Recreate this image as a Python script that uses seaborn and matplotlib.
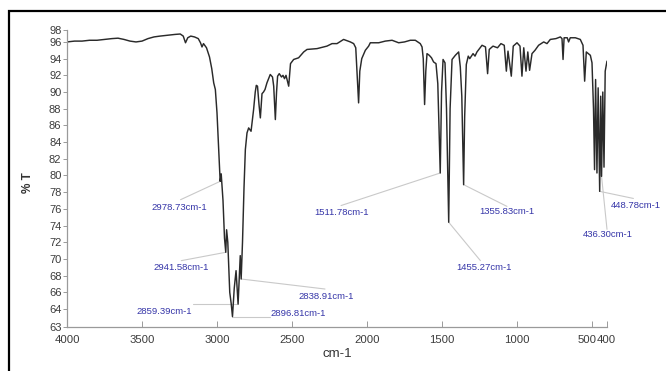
import matplotlib
matplotlib.use("Agg")
import matplotlib.pyplot as plt
import matplotlib.transforms as mtransforms
from matplotlib.patches import Rectangle
import seaborn as sns
import pandas as pd

# FT-IR spectrum: wavenumber (cm-1) and transmittance (%T)
wavenumber = [
    4000, 3950, 3900, 3850, 3800, 3750, 3700, 3660, 3620, 3580, 3540, 3500,
    3460, 3420, 3380, 3330, 3280, 3245, 3225, 3210, 3195, 3175, 3150, 3125,
    3110, 3100, 3090, 3070, 3050, 3035, 3022, 3011, 3000, 2990, 2982, 2978.73,
    2972, 2960, 2950, 2941.58, 2936, 2928, 2915, 2905, 2896.81, 2885, 2873,
    2866, 2859.39, 2852, 2845, 2838.91, 2830, 2820, 2811, 2800, 2789, 2773,
    2765, 2756, 2745, 2738, 2730, 2720, 2711, 2705, 2700, 2690, 2680, 2667,
    2645, 2630, 2622, 2611, 2603, 2596, 2585, 2570, 2560, 2550, 2540, 2533,
    2522, 2510, 2489, 2456, 2422, 2400, 2333, 2267, 2233, 2200, 2156, 2111,
    2089, 2075, 2065, 2056, 2048, 2035, 2011, 1989, 1978, 1922, 1878, 1833,
    1789, 1750, 1711, 1678, 1645, 1633, 1625, 1616, 1608, 1600, 1585, 1570,
    1556, 1540, 1528, 1511.78, 1503, 1493, 1480, 1470, 1455.27, 1446, 1433,
    1411, 1389, 1378, 1368, 1355.83, 1349, 1338, 1325, 1315, 1293, 1280,
    1267, 1250, 1233, 1210, 1196, 1185, 1160, 1130, 1107, 1085, 1071, 1060,
    1038, 1025, 1000, 980, 967, 955, 940, 928, 916, 900, 880, 856, 822, 800,
    778, 740, 711, 700, 693, 686, 665, 656, 645, 611, 578, 560, 549, 538,
    525, 511, 500, 490, 483, 476, 467, 459, 448.78, 442, 436.30, 428, 420,
    412, 400,
]
transmittance = [
    96.0, 96.1, 96.1, 96.2, 96.2, 96.3, 96.4, 96.45, 96.3, 96.1, 96.0, 96.1,
    96.4, 96.6, 96.7, 96.8, 96.9, 96.95, 96.7, 95.9, 96.5, 96.7, 96.6, 96.4,
    95.9, 95.4, 95.8, 95.3, 94.2, 92.8, 91.1, 90.3, 87.5, 83.5, 80.5, 79.3,
    80.2, 77.0, 72.5, 70.8, 73.5, 72.0, 66.0, 64.6, 63.1, 66.5, 68.6,
    66.5, 64.6, 67.5, 70.4, 67.6, 72.0, 78.5, 83.1, 85.1, 85.7, 85.3,
    86.5, 87.9, 90.0, 90.8, 90.7, 88.5, 86.9, 88.5, 89.8, 90.0, 90.3, 91.1,
    92.1, 91.8, 90.7, 86.7, 90.0, 91.9, 92.2, 91.8, 92.0, 91.6, 92.0, 91.5,
    90.7, 93.4, 93.9, 94.1, 94.8, 95.1, 95.2, 95.5, 95.8, 95.8, 96.3, 96.0,
    95.8, 95.3, 91.9, 88.7, 92.5, 94.0, 95.0, 95.5, 95.9, 95.9, 96.1, 96.2,
    95.9, 96.0, 96.2, 96.2, 95.8, 95.4, 94.0, 88.5, 92.5, 94.6, 94.4, 94.1,
    93.6, 93.4, 91.0, 80.3, 90.0, 93.9, 93.5, 88.0, 74.4, 88.0, 93.9,
    94.4, 94.8, 93.0, 89.5, 78.9, 87.0, 93.3, 94.3, 94.0, 94.6, 94.3,
    94.8, 95.2, 95.6, 95.4, 92.2, 95.1, 95.5, 95.3, 95.8, 95.6, 92.5, 94.9,
    91.9, 95.5, 95.9, 95.5, 91.9, 95.3, 92.5, 94.8, 92.6, 94.6, 95.0, 95.6, 96.0, 95.8,
    96.3, 96.4, 96.6, 96.4, 93.9, 96.5, 96.5, 96.0, 96.5, 96.5, 96.3, 95.6, 91.3, 94.8,
    94.6, 94.4, 93.5, 88.0, 80.7, 91.5, 80.3, 90.5, 78.1, 89.5, 79.9, 90.0, 81.0,
    92.5, 93.7,
]

# Labelled bands and where their captions sit
peak_wn = [2978.73, 2941.58, 2896.81, 2859.39, 2838.91, 1511.78, 1455.27, 1355.83, 448.78, 436.30]
peak_text = ["2978.73cm-1", "2941.58cm-1", "2896.81cm-1", "2859.39cm-1", "2838.91cm-1",
             "1511.78cm-1", "1455.27cm-1", "1355.83cm-1", "448.78cm-1", "436.30cm-1"]
label_xy = [(3251, 76.2), (3238, 69.0), (2457, 63.5), (3350, 63.7), (2273, 65.55),
            (2171, 75.6), (1218, 69.0), (1065, 75.7), (205, 76.4), (398, 72.95)]
leader_end = [(3243, 77.1), (3238, 69.8), (2645, 63.1), (3158, 64.6), (2280, 66.4),
              (2173, 76.4), (1244, 69.8), (1067, 76.3), (224, 77.25), (400, 73.55)]

x_ticks = [4000, 3500, 3000, 2500, 2000, 1500, 1000, 500, 400]
y_ticks = [64, 66, 68, 70, 72, 74, 76, 78, 80, 82, 84, 86, 88, 90, 92, 94, 96]
y_lo, y_hi = 61.85, 97.43

sns.set_theme(style="white")
plt.rcParams["font.family"] = ["Liberation Sans", "DejaVu Sans"]

fig = plt.figure(figsize=(6.66, 3.71), dpi=100)
ax = fig.add_axes([67 / 666, 1 - 327 / 371, 540 / 666, 297 / 371])

df = pd.DataFrame({"cm-1": wavenumber, "%T": transmittance})
sns.lineplot(data=df, x="cm-1", y="%T", sort=False, estimator=None,
             color="#2a2a2a", linewidth=1.05, ax=ax)

lookup = dict(zip(wavenumber, transmittance))
for wn, txt, (lx, ly), (ex, ey) in zip(peak_wn, peak_text, label_xy, leader_end):
    ax.plot([wn, ex], [lookup[wn], ey], color="#c9c9c9", linewidth=0.8, zorder=1,
            clip_on=False)
    ax.text(lx, ly, txt, color="#3535a8", fontsize=6.8, ha="center", va="center",
            clip_on=False)

ax.set_xlim(4000, 400)
ax.set_ylim(y_lo, y_hi)
ax.set_xticks(x_ticks)
ax.set_xticklabels([str(v) for v in x_ticks])
ax.set_yticks([y_lo] + y_ticks + [y_hi])
ax.set_yticklabels(["63"] + [str(v) for v in y_ticks] + ["98"])

for side in ("top", "right"):
    ax.spines[side].set_visible(False)
for side in ("left", "bottom"):
    ax.spines[side].set_color("#9a9a9a")
    ax.spines[side].set_linewidth(0.9)

ax.tick_params(axis="y", direction="out", length=3, width=0.7, color="#9a9a9a",
               labelsize=8, labelcolor="#3c3c3c", pad=1)
ax.tick_params(axis="x", direction="in", length=4, width=0.7, color="#9a9a9a",
               labelsize=8.2, labelcolor="#3c3c3c", pad=6)
ax.tick_params(left=True, bottom=True)

# the last two tick labels sit side by side
xlabels = ax.get_xticklabels()
xlabels[-2].set_horizontalalignment("right")
xlabels[-2].set_transform(xlabels[-2].get_transform()
                          + mtransforms.ScaledTranslation(5 / 100, 0, fig.dpi_scale_trans))
xlabels[-1].set_horizontalalignment("left")
xlabels[-1].set_transform(xlabels[-1].get_transform()
                          + mtransforms.ScaledTranslation(-10 / 100, 0, fig.dpi_scale_trans))

ax.set_xlabel("cm-1", fontsize=9.5, color="#333333", labelpad=2)
ax.set_ylabel("% T", fontsize=8.5, color="#333333", fontweight="bold")
ax.yaxis.set_label_coords(-33 / 540, 0.485)

# outer frame around the figure
fig.patches.append(Rectangle((9 / 666, -0.2), 1.2, 1.2 - 11 / 371, transform=fig.transFigure,
                             fill=False, edgecolor="black", linewidth=1.6))

fig.savefig("out.png", dpi=100, facecolor="white")
